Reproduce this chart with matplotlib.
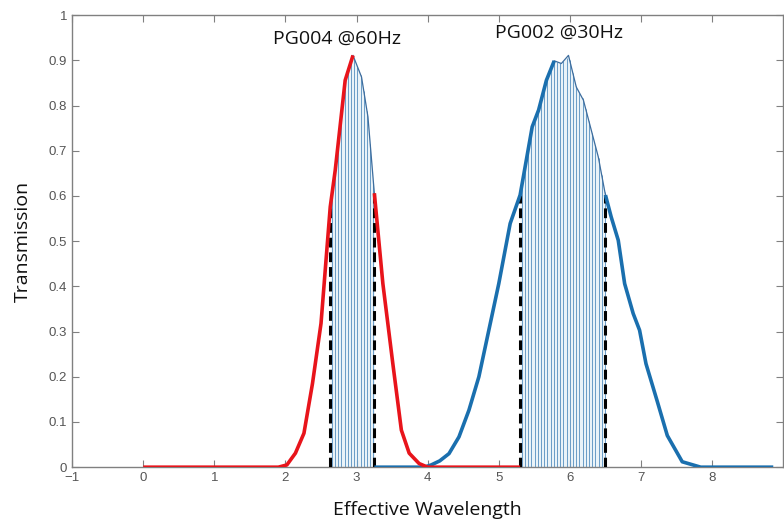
import matplotlib

matplotlib.use("Agg")
import matplotlib.pyplot as plt
import numpy as np

# ── data ──────────────────────────────────────────────────────────────────────
red_x = [0.0, 1.90, 2.02, 2.14, 2.26, 2.38, 2.50, 2.63, 2.70, 2.84, 2.95,
         3.07, 3.16, 3.25, 3.37, 3.51, 3.63, 3.74, 3.88, 4.00, 5.30]
red_y = [0.0, 0.0, 0.005, 0.031, 0.075, 0.185, 0.318, 0.576, 0.657, 0.856, 0.911,
         0.863, 0.775, 0.606, 0.406, 0.229, 0.082, 0.031, 0.008, 0.0, 0.0]

blue_x = [3.25, 3.95, 4.05, 4.17, 4.30, 4.44, 4.58, 4.72, 4.86, 5.00, 5.16,
          5.30, 5.37, 5.47, 5.56, 5.67, 5.78, 5.88, 5.98, 6.09, 6.19, 6.30,
          6.40, 6.50, 6.58, 6.68, 6.77, 6.89, 6.98, 7.07, 7.23, 7.37, 7.58,
          7.84, 8.86]
blue_y = [0.0, 0.0, 0.005, 0.014, 0.030, 0.067, 0.126, 0.200, 0.303, 0.406, 0.539,
          0.602, 0.664, 0.753, 0.790, 0.856, 0.899, 0.893, 0.911, 0.841, 0.812, 0.746,
          0.686, 0.602, 0.554, 0.502, 0.406, 0.340, 0.303, 0.229, 0.145, 0.07, 0.012,
          0.0, 0.0]

# shaded pass-bands (start, end) and where the thick curve stops inside them
red_band = (2.63, 3.25)
blue_band = (5.30, 6.50)
red_thick_end = 2.95
blue_thick_end = 5.78

labels = ["PG004 @60Hz", "PG002 @30Hz"]
label_pos = [(2.72, 0.947), (5.84, 0.96)]

RED, BLUE = "#e8141b", "#1a6fae"
HATCH, HATCH_BG, OUTLINE = "#6a9cc6", "#eaf3f8", "#3d6d9e"
TICK = "#555555"


def shade_band(ax, xs, ys, band, step=0.045):
    xs, ys = np.asarray(xs), np.asarray(ys)
    m = (xs >= band[0] - 1e-9) & (xs <= band[1] + 1e-9)
    ax.fill_between(xs[m], 0, ys[m], color=HATCH_BG, lw=0, zorder=1)
    hx = np.arange(band[0] + step / 2, band[1], step)
    ax.vlines(hx, 0, np.interp(hx, xs, ys), color=HATCH, lw=0.7, zorder=2)
    ax.plot(xs[m], ys[m], color=OUTLINE, lw=0.9, zorder=3)
    for b in band:
        ax.plot([b, b], [0, np.interp(b, xs, ys)], color="black", lw=2.2,
                ls=(0, (3.2, 1.6)), zorder=4)


def thick(ax, xs, ys, lo, hi, color):
    xs, ys = np.asarray(xs), np.asarray(ys)
    m = (xs >= lo - 1e-9) & (xs <= hi + 1e-9)
    ax.plot(xs[m], ys[m], color=color, lw=2.6, solid_capstyle="butt", zorder=5)


fig = plt.figure(figsize=(7.84, 5.22), dpi=100, facecolor="white")
ax = fig.add_axes([0.092, 0.105, 0.907, 0.866])

shade_band(ax, red_x, red_y, red_band)
shade_band(ax, blue_x, blue_y, blue_band)

thick(ax, blue_x, blue_y, blue_x[0], blue_thick_end, BLUE)
thick(ax, blue_x, blue_y, blue_band[1], blue_x[-1], BLUE)
thick(ax, red_x, red_y, red_x[0], red_thick_end, RED)
thick(ax, red_x, red_y, red_band[1], red_x[-1], RED)

for txt, (tx, ty) in zip(labels, label_pos):
    ax.text(tx, ty, txt, ha="center", va="center", fontsize=14,
            family="Open Sans", color="#111111")

ax.set_xlim(-1, 9)
ax.set_ylim(0, 1)
ax.set_xticks(np.arange(-1, 9))
ax.set_yticks(np.arange(0, 1.01, 0.1))
ax.set_yticklabels(["0"] + [f"{v:.1f}" for v in np.arange(0.1, 1.0, 0.1)] + ["1"])
ax.tick_params(direction="in", length=5, width=0.8, colors="#808080",
               top=True, right=True, labelcolor=TICK, labelsize=9.5)
for lab in ax.get_xticklabels() + ax.get_yticklabels():
    lab.set_family("Liberation Sans")
for s in ax.spines.values():
    s.set_color("#808080")
    s.set_linewidth(1.0)

ax.set_xlabel("Effective Wavelength", fontsize=14, family="Open Sans",
              color="#111111", labelpad=12)
ax.set_ylabel("Transmission", fontsize=14, family="Open Sans",
              color="#111111", labelpad=12)

fig.savefig("out.png", dpi=100, facecolor="white")
